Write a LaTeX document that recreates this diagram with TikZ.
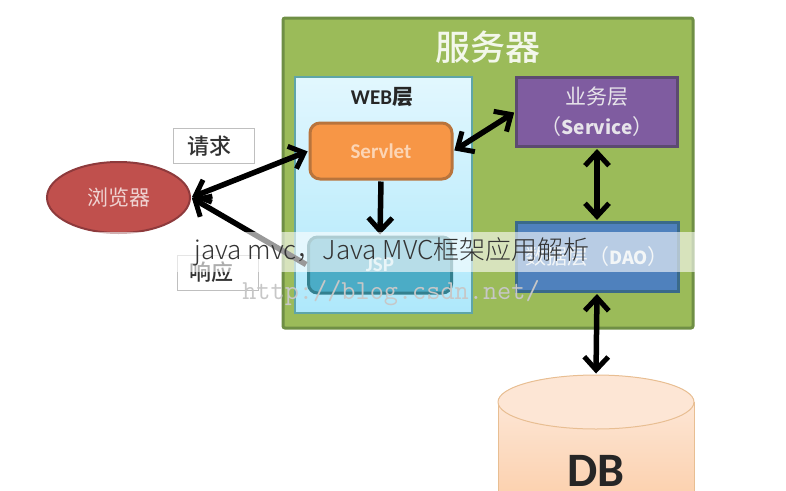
\documentclass[tikz,border=0pt]{standalone}
\usepackage{fontspec}
\setmainfont{Carlito}
\newfontfamily\cjk{Noto Sans CJK SC}
\newfontfamily\cjkmedium[UprightFont=* Medium]{Noto Sans CJK SC}
\newfontfamily\capfont[UprightFont=* Light]{Noto Sans CJK SC}
\usetikzlibrary{arrows.meta,shapes.geometric}
\definecolor{server color}{HTML}{9BBB59}
\definecolor{server edge}{HTML}{6F8F45}
\definecolor{web top}{HTML}{E2F7FE}
\definecolor{web bottom}{HTML}{AEE8FB}
\definecolor{web edge}{HTML}{5FA5A8}
\definecolor{servlet color}{HTML}{F79646}
\definecolor{servlet edge}{HTML}{B9743C}
\definecolor{service color}{HTML}{7F5CA0}
\definecolor{service edge}{HTML}{5C4A70}
\definecolor{dao color}{HTML}{4F81BD}
\definecolor{dao edge}{HTML}{3A6A8A}
\definecolor{jsp color}{HTML}{4BACC6}
\definecolor{jsp edge}{HTML}{33808F}
\definecolor{browser color}{HTML}{C0504D}
\definecolor{browser edge}{HTML}{8E3A3C}
\definecolor{db top}{HTML}{FDE6D5}
\definecolor{db bottom}{HTML}{FBC9A0}
\definecolor{db edge}{HTML}{E8BE92}
\tikzset{
    x={1pt},
    y={-1pt},
    layer box/.style={
        draw={#1},
        line width={3pt},
        inner sep=0pt,
        text=white!85!#1,
        align=center,
        font={\cjk\fontsize{21}{30}\selectfont},
    },
    latin part/.style={
        font={\bfseries\fontsize{21}{25}\selectfont},
    },
    tag box/.style={
        draw=black!25,
        fill=white,
        line width={1pt},
        minimum width={81},
        minimum height={35},
        align=left,
        inner ysep=0pt,
        font={\cjkmedium\fontsize{22}{26}\selectfont},
        text=black!80,
    },
    link/.style={
        draw=black,
        line width={5.5pt},
        shorten >=1pt,
        shorten <=1pt,
    },
    both tips/.style={
        link,
        {Straight Barb[length=13pt,width=24pt,line width=5pt]}-{Straight Barb[length=13pt,width=24pt,line width=5pt]},
    },
    one tip/.style={
        link,
        -{Straight Barb[length=13pt,width=24pt,line width=5pt]},
    },
}
\begin{document}
\begin{tikzpicture}
\useasboundingbox (0,0) rectangle (786,490);
\clip (0,0) rectangle (786,490);
% server
\node[draw=server edge, fill=server color, line width={3pt}, rounded corners={2pt}, minimum width={410}, minimum height={310}] (server) at (488,173) {};
\node[text=white!88!server color, font={\cjkmedium\fontsize{35}{40}\selectfont}] (servertitle) at (488,47) {服务器};
% web layer
\node[draw=web edge, top color=web top, bottom color=web bottom, line width={2pt}, minimum width={177}, minimum height={236}] (web) at (383,195) {};
\node[font={\bfseries\fontsize{21}{25}\selectfont}, text=black!85] (webtitle) at (382,97) {WEB{\cjk 层}};
% layers
\node[layer box={servlet edge}, fill=servlet color, rounded corners={10pt}, minimum width={142}, minimum height={56}, latin part, text=white!60!servlet color] (servlet) at (381,151) {Servlet};
\node[layer box={jsp edge}, fill=jsp color, rounded corners={9pt}, minimum width={143}, minimum height={56}, latin part, text=white!70!jsp color] (jsp) at (380,265) {JSP};
\node[layer box={service edge}, fill=service color, minimum width={161}, minimum height={69}] (service) at (597,112) {业务层\\（{\bfseries\fontsize{19}{25}\selectfont Service}）};
\node[layer box={dao edge}, fill=dao color, minimum width={162}, minimum height={69}] (dao) at (597,257) {数据层（{\bfseries\fontsize{18}{25}\selectfont DAO}）};
% browser
\node[ellipse, draw=browser edge, fill=browser color, line width={2pt}, minimum width={143}, minimum height={71}, inner sep=0pt, text=white!75!browser color, font={\cjk\fontsize{21}{25}\selectfont}] (browser) at (118.5,197.5) {浏览器};
% tags
\node[tag box, inner xsep=14, text width={53}] (request) at (214,146) {\raisebox{-2pt}{请求}};
\node[tag box, inner xsep=12, text width={57}] (response) at (218,272.5) {\raisebox{-2pt}{响应}};
% db
\path[draw=db edge, top color=db top, bottom color=db bottom, line width={1pt}] (498,402) -- (498,530) -- (694,530) -- (694,402) -- cycle;
\node[ellipse, draw=db edge, fill=db top, line width={1pt}, minimum width={196}, minimum height={54}, inner sep=0pt] (dbtop) at (596,402) {};
\node[font={\bfseries\fontsize{48}{56}\selectfont}, text=black!85] (dblabel) at (596,471) {DB};
% links
\draw[both tips] (browser.east) -- (servlet.west);
\draw[one tip] (jsp.west) -- (browser.east);
\draw[one tip] (servlet.south) -- (jsp.north);
\draw[both tips] (servlet.east) -- (service.west);
\draw[both tips] (service.south) -- (dao.north);
\draw[both tips] (dao.south) -- (dbtop.north);
% watermark
\node[text=black!22, font={\ttfamily\fontsize{27.5}{30}\selectfont}] (watermark) at (391,293) {http://blog.csdn.net/};
% caption
\node[fill=white, fill opacity=0.6, minimum width={606}, minimum height={40}, inner sep=0pt] (strip) at (393,252) {};
\node[text=black!80, font={\capfont\fontsize{26}{30}\selectfont}] (caption) at (392,252) {java mvc，Java MVC框架应用解析};
\end{tikzpicture}
\end{document}
